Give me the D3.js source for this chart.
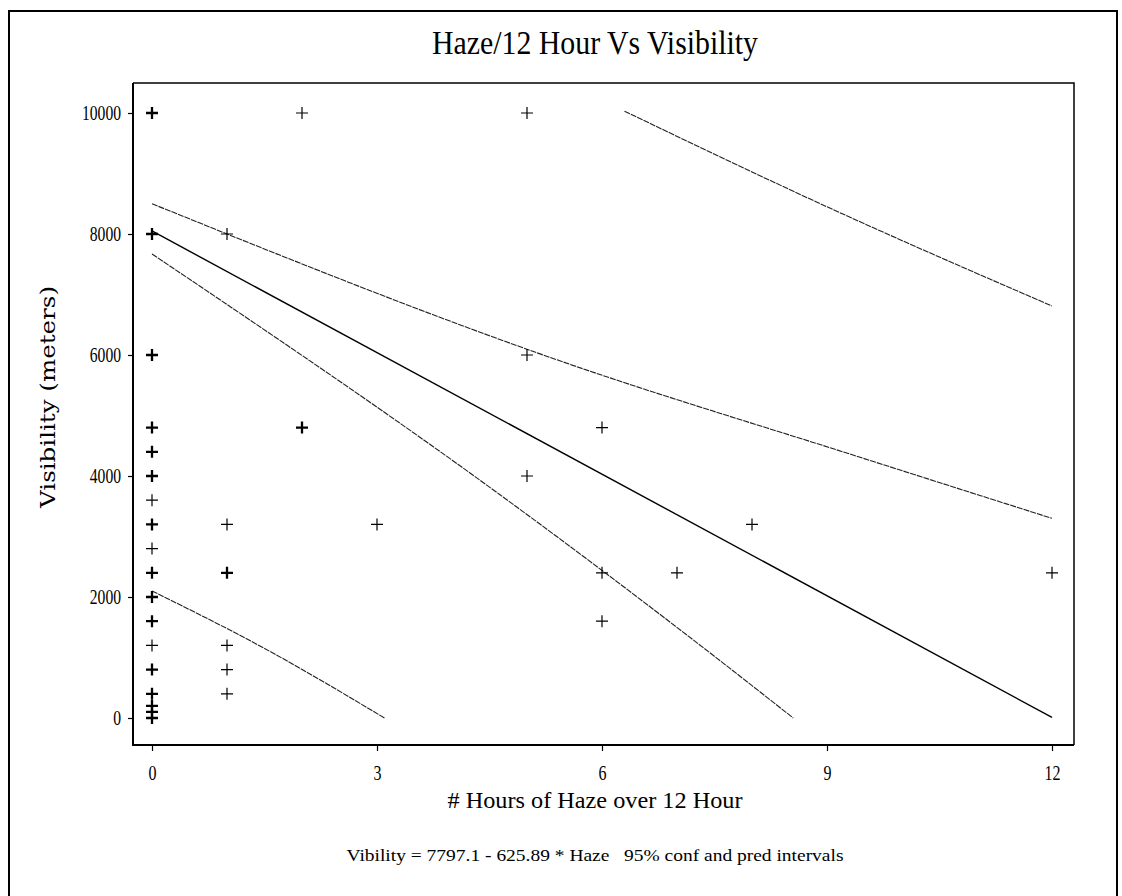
<!DOCTYPE html>
<html>
<head>
<meta charset="utf-8">
<style>
  body { margin: 0; background: #fff; }
  svg { display: block; }
  .serif { font-family: "Liberation Serif", "Times New Roman", serif; fill: #000; }
  .ci { fill: none; stroke: #222; stroke-width: 1.1; stroke-dasharray: 6,1; }
  .fit { fill: none; stroke: #000; stroke-width: 1.4; }
  .mark { stroke: #000; }
</style>
</head>
<body>
<script src="https://cdn.jsdelivr.net/npm/d3@7"></script>
<script>
// observations (repeated rows = overlapping points, drawn heavier)
const hazeHours = [
  0, 0, 0, 0, 0, 0, 0, 0, 0, 0, 0, 0, 0, 0, 0, 0, 0, 0, 0, 0,
  0, 0, 0, 0, 0, 0, 0, 0, 0, 0, 0, 0, 0,
  1, 1, 1, 1, 1, 1, 1,
  2, 2, 2,
  3,
  5, 5, 5,
  6, 6, 6,
  7, 8, 12
];
const visibility = [
  10000, 10000, 8000, 8000, 6000, 6000, 4800, 4800, 4400, 4400, 4000, 4000, 3600, 3200, 3200, 2800, 2400, 2400, 2000, 2000,
  1600, 1600, 1200, 800, 800, 400, 400, 200, 200, 100, 100, 0, 0,
  8000, 3200, 2400, 2400, 1200, 800, 400,
  10000, 4800, 4800,
  3200,
  10000, 6000, 4000,
  4800, 2400, 1600,
  2400, 3200, 2400
];

// fitted line and interval curves
const fitX = [0, 12];
const fitY = [8050, 10];
const upperConfX = [0, 5.4, 9.44, 12];
const upperConfY = [8500, 5920, 4310, 3300];
const lowerConfX = [0, 4.64, 7.53, 8.55];
const lowerConfY = [7670, 3690, 990, 0];
const upperPredX = [6.3, 9, 12];
const upperPredY = [10030, 8450, 6810];
const lowerPredX = [0, 1.5, 3.1];
const lowerPredY = [2100, 1150, 0];

const xTicks = [0, 3, 6, 9, 12];
const yTicks = [0, 2000, 4000, 6000, 8000, 10000];

const width = 1122, height = 896;
const plot = { left: 133, top: 83, right: 1074, bottom: 745 };

const x = d3.scaleLinear().domain([0, 12]).range([152, 1052]);
const y = d3.scaleLinear().domain([0, 10000]).range([718, 113]);

const svg = d3.select('body').append('svg')
  .attr('width', width)
  .attr('height', height);

// outer frame
svg.append('path')
  .attr('d', `M9,${height} V11 H1117 V${height}`)
  .attr('fill', 'none')
  .attr('stroke', '#000')
  .attr('stroke-width', 2);

// title
svg.append('text').attr('class', 'serif')
  .attr('x', 595).attr('y', 54)
  .attr('text-anchor', 'middle')
  .attr('font-size', 34)
  .attr('textLength', 326).attr('lengthAdjust', 'spacingAndGlyphs')
  .text('Haze/12 Hour Vs Visibility');

// plot box
svg.append('path')
  .attr('d', `M${plot.left},${plot.top} H${plot.right} V${plot.bottom}`)
  .attr('fill', 'none').attr('stroke', '#000').attr('stroke-width', 1.5);
svg.append('path')
  .attr('d', `M${plot.left},${plot.top} V${plot.bottom} H${plot.right}`)
  .attr('fill', 'none').attr('stroke', '#000').attr('stroke-width', 2);

// axes
const yAxis = svg.append('g')
  .attr('transform', `translate(${plot.left},0)`)
  .call(d3.axisLeft(y).tickValues(yTicks).tickFormat(d3.format('d'))
    .tickSize(5).tickPadding(7).tickSizeOuter(0));
yAxis.select('.domain').remove();
yAxis.selectAll('line').attr('stroke-width', 1.2);
yAxis.selectAll('text')
  .attr('class', 'serif')
  .attr('font-size', 21)
  .attr('textLength', d => String(d).length * 7.8)
  .attr('lengthAdjust', 'spacingAndGlyphs');

const xAxis = svg.append('g')
  .attr('transform', `translate(0,${plot.bottom})`)
  .call(d3.axisBottom(x).tickValues(xTicks).tickFormat(d3.format('d'))
    .tickSize(6).tickPadding(14).tickSizeOuter(0));
xAxis.select('.domain').remove();
xAxis.selectAll('line').attr('stroke-width', 1.2);
xAxis.selectAll('text')
  .attr('class', 'serif')
  .attr('font-size', 21)
  .attr('textLength', d => String(d).length * 8)
  .attr('lengthAdjust', 'spacingAndGlyphs');

// axis titles
svg.append('text')
  .attr('transform', 'translate(55,397) rotate(-90)')
  .attr('text-anchor', 'middle')
  .attr('font-family', '"DejaVu Serif", serif')
  .attr('font-size', 21)
  .attr('textLength', 222).attr('lengthAdjust', 'spacingAndGlyphs')
  .text('Visibility (meters)');

svg.append('text').attr('class', 'serif')
  .attr('x', 595).attr('y', 808)
  .attr('text-anchor', 'middle')
  .attr('font-size', 23)
  .attr('textLength', 295).attr('lengthAdjust', 'spacingAndGlyphs')
  .text('# Hours of Haze over 12 Hour');

svg.append('text').attr('class', 'serif')
  .attr('x', 595).attr('y', 861)
  .attr('text-anchor', 'middle')
  .attr('font-size', 17)
  .attr('textLength', 497).attr('lengthAdjust', 'spacingAndGlyphs')
  .attr('xml:space', 'preserve')
  .text('Vibility = 7797.1 - 625.89 * Haze   95% conf and pred intervals');

// lines
const line = d3.line()
  .x(d => x(d[0]))
  .y(d => y(d[1]))
  .curve(d3.curveMonotoneX);

const curves = [
  { cls: 'ci', xs: upperPredX, ys: upperPredY },
  { cls: 'ci', xs: upperConfX, ys: upperConfY },
  { cls: 'ci', xs: lowerConfX, ys: lowerConfY },
  { cls: 'ci', xs: lowerPredX, ys: lowerPredY },
  { cls: 'fit', xs: fitX, ys: fitY }
];
svg.append('g').selectAll('path')
  .data(curves)
  .join('path')
  .attr('class', d => d.cls)
  .attr('d', d => line(d.xs.map((v, i) => [v, d.ys[i]])));

// points as "+" markers; overlapping observations drawn heavier
const counts = d3.rollup(hazeHours.map((h, i) => [h, visibility[i]]), v => v.length, d => d[0] + ',' + d[1]);
const points = Array.from(counts, ([k, n]) => {
  const [h, v] = k.split(',').map(Number);
  return { h, v, n };
});
const arm = 6;
svg.append('g').selectAll('path')
  .data(points)
  .join('path')
  .attr('class', 'mark')
  .attr('stroke-width', d => d.n > 1 ? 2.3 : 1.2)
  .attr('d', d => {
    const px = x(d.h), py = y(d.v);
    return `M${px - arm},${py} H${px + arm} M${px},${py - arm} V${py + arm}`;
  });
</script>
</body>
</html>
